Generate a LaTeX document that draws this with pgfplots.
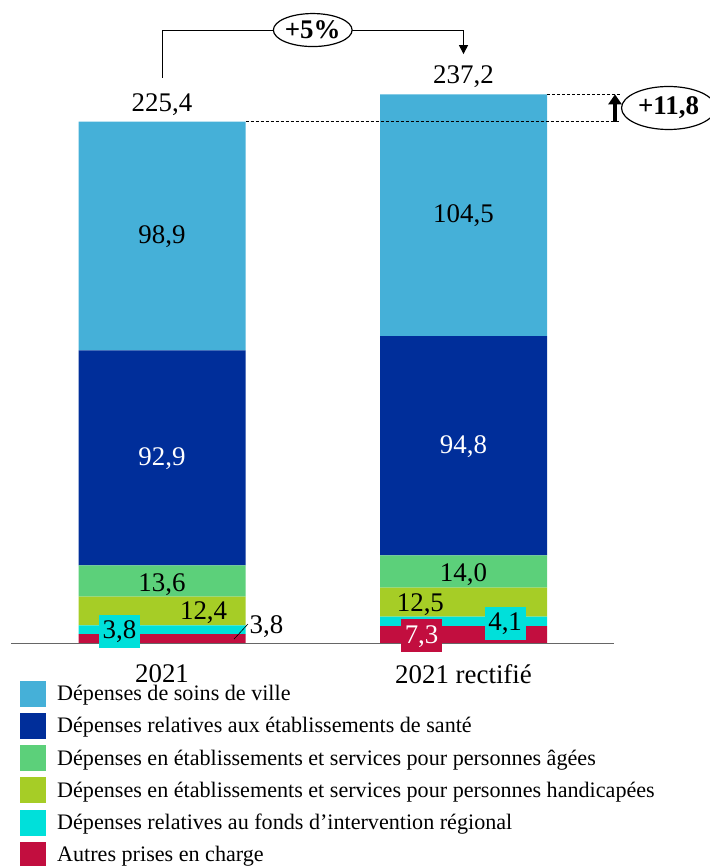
\documentclass[border=0pt]{standalone}
\usepackage{fontspec}
\setmainfont{Liberation Serif}
\usepackage{pgfplots}
\pgfplotsset{compat=1.18}
\usetikzlibrary{shapes.geometric,arrows.meta}

\definecolor{soins}{RGB}{69,176,216}
\definecolor{sante}{RGB}{0,46,154}
\definecolor{agees}{RGB}{92,208,122}
\definecolor{handi}{RGB}{166,205,38}
\definecolor{fir}{RGB}{0,224,218}
\definecolor{autres}{RGB}{194,14,63}

\newcommand{\lbl}{\fontsize{27}{32}\selectfont}
\newcommand{\leg}{\fontsize{22.2}{26}\selectfont}

\tikzset{
  lv/.style={font=\lbl, anchor=center, text height=18bp, text depth=3bp, inner sep=0bp},
  box/.style={lv, minimum height=33bp, minimum width=41bp},
}

\begin{document}
\begin{tikzpicture}
\useasboundingbox (0,0) rectangle (710bp,866bp);
\begin{axis}[
  at={(11.25bp,223bp)}, anchor=south west,
  scale only axis, width=603bp, height=578.25bp,
  xmin=-0.5, xmax=1.5, ymin=0, ymax=250,
  ybar stacked, bar width=167bp,
  axis x line=bottom, axis y line=none,
  x axis line style={-, draw=black!60, line width=0.8pt},
  xtick={0,1}, xticklabels={2021, 2021 rectifié},
  major tick length=0pt,
  xticklabel style={font=\lbl, inner sep=0pt, text depth=0pt, yshift=-21bp},
  clip=false,
  legend image code/.code={\fill[#1] (0bp,-13bp) rectangle (26bp,13bp);},
  reverse legend,
  legend cell align=left,
  legend style={draw=none, fill=none, at={(0,0)}, anchor=north west,
    xshift=8.75bp, yshift=-37.5bp, font=\leg, row sep=6.2bp, inner sep=0pt,
    /tikz/every odd column/.append style={column sep=9bp}},
]
% bottom to top
\addplot[fill=autres, draw=none] coordinates {(0,3.8) (1,7.3)};
\addlegendentry{Autres prises en charge}
\addplot[fill=fir, draw=none] coordinates {(0,3.8) (1,4.1)};
\addlegendentry{Dépenses relatives au fonds d'intervention régional}
\addplot[fill=handi, draw=none] coordinates {(0,12.4) (1,12.5)};
\addlegendentry{Dépenses en établissements et services pour personnes handicapées}
\addplot[fill=agees, draw=none] coordinates {(0,13.6) (1,14.0)};
\addlegendentry{Dépenses en établissements et services pour personnes âgées}
\addplot[fill=sante, draw=none] coordinates {(0,92.9) (1,94.8)};
\addlegendentry{Dépenses relatives aux établissements de santé}
\addplot[fill=soins, draw=none] coordinates {(0,98.9) (1,104.5)};
\addlegendentry{Dépenses de soins de ville}

% anchor points for the value labels (segment midpoints etc.)
\coordinate (a1) at (axis cs:0,175.95);
\coordinate (a2) at (axis cs:0,80.05);
\coordinate (a3) at (axis cs:0,25.5);
\coordinate (a4) at (axis cs:0.138,13.2);
\coordinate (a5) at (axis cs:-0.141,5.0);
\coordinate (a6a) at (axis cs:0.239,1.7);
\coordinate (a6b) at (axis cs:0.285,8.2);
\coordinate (a6) at (axis cs:0.29,7.3);
\coordinate (b1) at (axis cs:1,184.95);
\coordinate (b2) at (axis cs:1,85.3);
\coordinate (b3) at (axis cs:1,29.8);
\coordinate (b4) at (axis cs:0.857,16.9);
\coordinate (b5) at (axis cs:1.138,8.6);
\coordinate (b6) at (axis cs:0.861,3.2);
\coordinate (ta) at (axis cs:0,233);
\coordinate (tb) at (axis cs:1,245);
% growth bracket and difference marker
\coordinate (g0) at (axis cs:0,244.3);
\coordinate (g1) at (axis cs:1,265);
\coordinate (g2) at (axis cs:1,254.6);
\coordinate (g3) at (axis cs:0.5,265);
\coordinate (d0) at (axis cs:0.277,225.4);
\coordinate (d1) at (axis cs:1.519,225.4);
\coordinate (d2) at (axis cs:1.277,237.2);
\coordinate (d3) at (axis cs:1.519,237.2);
\coordinate (d4) at (axis cs:1.5025,225.4);
\coordinate (d5) at (axis cs:1.5025,237.2);
\coordinate (d6) at (axis cs:1.68,231.3);
\end{axis}

% values, 2021
\node[lv] at (a1) {98,9};
\node[lv, text=white] at (a2) {92,9};
\node[lv] at (a3) {13,6};
\node[lv] at (a4) {12,4};
\node[box, fill=fir] at (a5) {3,8};
\draw[line width=0.6pt] (a6a) -- (a6b);
\node[lv, anchor=west] at (a6) {3,8};
% values, 2021 rectifié
\node[lv] at (b1) {104,5};
\node[lv, text=white] at (b2) {94,8};
\node[lv] at (b3) {14,0};
\node[lv] at (b4) {12,5};
\node[box, fill=fir] at (b5) {4,1};
\node[box, fill=autres, text=white] at (b6) {7,3};
% totals
\node[lv] at (ta) {225,4};
\node[lv] at (tb) {237,2};
% growth between the two totals
\draw[line width=1pt, -{Triangle[length=9bp,width=9bp]}] (g0) |- (g1) -- (g2);
\node[draw, line width=1.2pt, fill=white, ellipse, minimum width=78bp,
  minimum height=33bp, inner sep=0pt, font=\lbl\bfseries] at (g3) {+5\%};
\draw[line width=0.6pt, dash pattern=on 3bp off 2bp] (d0) -- (d1);
\draw[line width=0.6pt, dash pattern=on 3bp off 2bp] (d2) -- (d3);
\draw[line width=3.5pt, -{Triangle[length=10bp,width=13bp]}] (d4) -- (d5);
\node[draw, line width=1.2pt, fill=white, ellipse, minimum width=94bp,
  minimum height=43bp, inner sep=0pt, font=\lbl\bfseries] at (d6) {+11,8};
\end{tikzpicture}
\end{document}
